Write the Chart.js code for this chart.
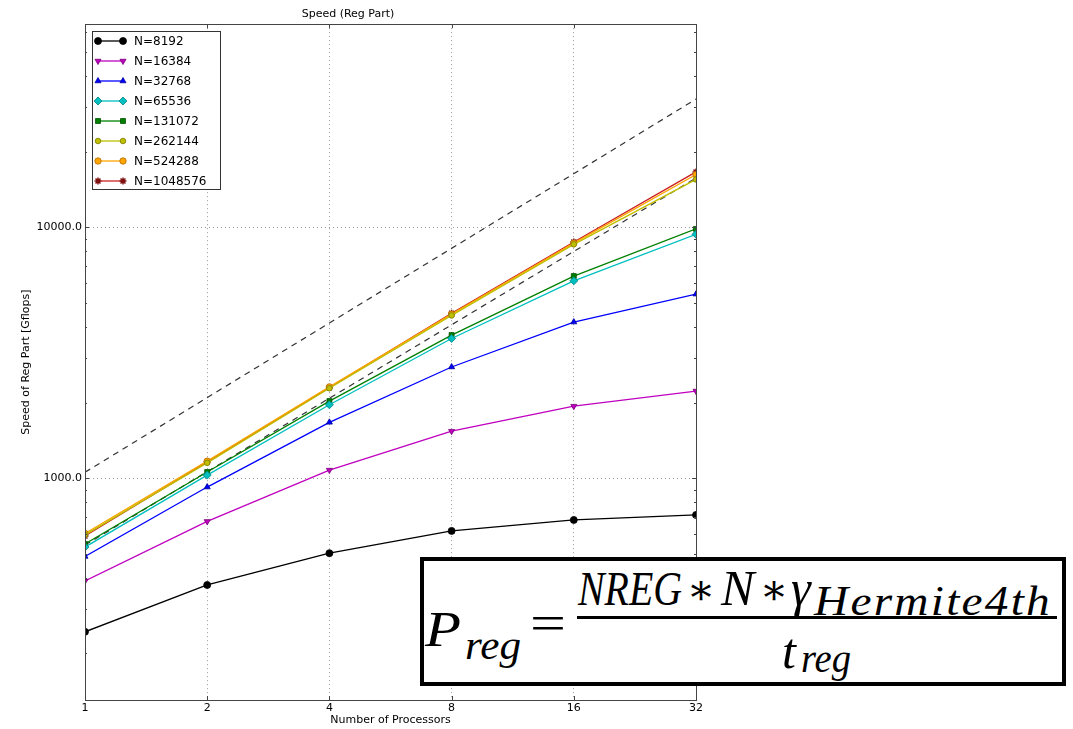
<!DOCTYPE html>
<html>
<head>
<meta charset="utf-8">
<script src="https://cdn.jsdelivr.net/npm/chart.js@4"></script>
<style>
html,body{margin:0;padding:0;background:#fff;}
#wrap{position:absolute;left:0;top:0;width:1073px;height:729px;}
#formula{position:absolute;left:420px;top:557px;width:638px;height:121px;border:4px solid #000;background:#fff;
font-family:"Liberation Serif","DejaVu Serif",serif;font-style:italic;color:#000;overflow:hidden;}
#formula span{position:absolute;white-space:nowrap;line-height:1;transform-origin:0 0;}
.big{font-size:50px;}
.sub{font-size:40px;}
.op{font-style:normal;}
.ast{font-style:normal;font-size:42px;transform:translateX(-50%);}
#bar{position:absolute;left:153px;top:55px;width:480px;height:3px;background:#000;}
</style>
</head>
<body>
<div id="wrap"><canvas id="chart" width="1073" height="729"></canvas></div>
<div id="formula">
<span class="big" data-w="36" style="left:1px;top:43px;">P</span>
<span class="sub" data-w="56" style="left:41px;top:65px;">reg</span>
<span class="big op" data-w="36" style="left:106px;top:37px;">=</span>
<span class="big" data-w="104" style="left:154px;top:4px;font-size:48px;">NREG</span>
<span class="ast" style="left:277px;top:8px;">∗</span>
<span class="big" style="left:297px;top:2px;">N</span>
<span class="ast" style="left:350px;top:8px;">∗</span>
<span class="big" style="left:367px;top:2px;">γ</span>
<span class="sub" data-w="238" style="left:390px;top:19px;font-size:42px;letter-spacing:2px;">Hermite4th</span>
<div id="bar"></div>
<span class="big" style="left:358px;top:65px;">t</span>
<span class="sub" data-w="50" style="left:377px;top:78px;">reg</span>
</div>
<script>
const procs = [1, 2, 4, 8, 16, 32];
const seriesNames = ["N=8192", "N=16384", "N=32768", "N=65536", "N=131072", "N=262144", "N=524288", "N=1048576"];
const n8192 = [244, 375, 502, 616, 681, 713];
const n16384 = [389, 672, 1076, 1538, 1935, 2223];
const n32768 = [487, 921, 1668, 2772, 4185, 5408];
const n65536 = [531, 1028, 1960, 3600, 6110, 9370];
const n131072 = [546, 1057, 2027, 3715, 6383, 9840];
const n262144 = [594, 1150, 2280, 4450, 8540, 15500];
const n524288 = [602, 1168, 2310, 4500, 8640, 16200];
const n1048576 = [588, 1161, 2296, 4540, 8730, 16600];
const idealProcs = [1, 32];
const idealUpper = [1055, 32400];
const idealLower = [541, 15700];
const yMajor = [1000, 10000];

const allSeries = [n8192, n16384, n32768, n65536, n131072, n262144, n524288, n1048576];
const colors = ["#000000", "#bf00bf", "#0000ff", "#00bfbf", "#008000", "#bfbf00", "#ffa500", "#cc2222"];
const edges = ["#000000", "#7a007a", "#000099", "#008080", "#005000", "#7a7a00", "#b36b00", "#801010"];
const styles = ["circle", "triangle", "triangle", "rectRot", "rect", "circle", "circle", "star"];
const rots = [0, 180, 0, 0, 0, 0, 0, 0];
const radii = [3.5, 3.5, 3.5, 4, 3.5, 2.8, 3.2, 3.5];

// squeeze some formula pieces to the widths seen in the picture
document.querySelectorAll("#formula span[data-w]").forEach(s => {
let w = s.getBoundingClientRect().width;
s.style.transform = "scaleX(" + (Number(s.dataset.w) / w) + ")";
});

function pts(xs, ys){
return xs.map((x, i) => ({x: x, y: ys[i]}));
}

let datasets = allSeries.map((s, i) => ({
label: seriesNames[i],
data: pts(procs, s),
borderColor: colors[i],
backgroundColor: colors[i],
pointBackgroundColor: colors[i],
pointBorderColor: edges[i],
pointBorderWidth: styles[i] === "star" ? 1.5 : 0.8,
pointStyle: styles[i],
pointRotation: rots[i],
pointRadius: radii[i],
borderWidth: 1.3,
tension: 0
}));
[idealUpper, idealLower].forEach(d => {
datasets.push({
label: "",
data: pts(idealProcs, d),
borderColor: "#333",
borderWidth: 1.2,
borderDash: [6, 5],
pointRadius: 0,
isIdeal: true
});
});

const frame = {
id: "frame",
afterDraw(c){
const ctx = c.ctx, a = c.chartArea;
const xs = c.scales.x, ys = c.scales.y;
ctx.save();
ctx.strokeStyle = "#444";
ctx.lineWidth = 1;
// inward ticks
ctx.beginPath();
procs.forEach(v => {
let px = Math.round(xs.getPixelForValue(v)) + 0.5;
ctx.moveTo(px, a.bottom); ctx.lineTo(px, a.bottom - 4);
ctx.moveTo(px, a.top); ctx.lineTo(px, a.top + 4);
});
for(let d = 100; d <= 100000; d *= 10){
for(let k = 1; k < 10; k++){
let v = d * k;
if(v < ys.min || v > ys.max) continue;
let py = Math.round(ys.getPixelForValue(v)) + 0.5;
let len = k === 1 ? 4 : 2;
ctx.moveTo(a.left, py); ctx.lineTo(a.left + len, py);
ctx.moveTo(a.right, py); ctx.lineTo(a.right - len, py);
}
}
ctx.stroke();
ctx.strokeRect(Math.round(a.left) + 0.5, Math.round(a.top) + 0.5, Math.round(a.right - a.left), Math.round(a.bottom - a.top));

// legend
const lx = 92, ly = 31, lw = 128, lh = 158;
ctx.fillStyle = "#fff";
ctx.fillRect(lx, ly, lw, lh);
ctx.strokeStyle = "#333";
ctx.strokeRect(lx + 0.5, ly + 0.5, lw, lh);
ctx.font = "12px 'DejaVu Sans'";
ctx.textBaseline = "middle";
c.data.datasets.forEach((ds, i) => {
if(ds.isIdeal) return;
let y = ly + 10 + i * 20;
ctx.strokeStyle = ds.borderColor;
ctx.lineWidth = 1.3;
ctx.beginPath(); ctx.moveTo(98, y); ctx.lineTo(123, y); ctx.stroke();
[98, 123].forEach(x => {
ctx.fillStyle = ds.pointBackgroundColor;
ctx.strokeStyle = ds.pointBorderColor;
ctx.lineWidth = ds.pointBorderWidth;
Chart.helpers.drawPoint(ctx, {pointStyle: ds.pointStyle, rotation: ds.pointRotation, radius: ds.pointRadius, borderWidth: ds.pointBorderWidth}, x, y);
});
ctx.fillStyle = "#000";
ctx.fillText(ds.label, 134, y + 1);
});
ctx.restore();
}
};

const tickFont = {family: "'DejaVu Sans'", size: 11};

new Chart(document.getElementById("chart"), {
type: "line",
data: {datasets: datasets},
options: {
responsive: false,
animation: false,
layout: {padding: {left: 0, right: 377, top: 0, bottom: 0}},
plugins: {
legend: {display: false},
tooltip: {enabled: false},
title: {
display: true,
text: "Speed (Reg Part)",
color: "#000",
font: {family: "'DejaVu Sans'", size: 11, weight: "normal"},
padding: {top: 8, bottom: 3}
}
},
scales: {
x: {
type: "logarithmic",
min: 1,
max: 32,
afterBuildTicks: s => { s.ticks = procs.map(v => ({value: v})); },
afterFit: s => { s.height = 29; },
ticks: {color: "#000", font: tickFont, padding: 2, maxRotation: 0, autoSkip: false, callback: v => String(v)},
grid: {color: "#999", drawTicks: false, lineWidth: 1},
border: {display: false, dash: [1, 3]},
title: {display: true, text: "Number of Processors", color: "#000", font: tickFont, padding: {top: 0, bottom: 2}}
},
y: {
type: "logarithmic",
min: 130.5,
max: 64400,
afterBuildTicks: s => { s.ticks = yMajor.map(v => ({value: v})); },
afterFit: s => { s.width = 85; },
ticks: {color: "#000", font: tickFont, padding: 3, autoSkip: false, callback: v => Number(v).toFixed(1)},
grid: {color: "#999", drawTicks: false, lineWidth: 1},
border: {display: false, dash: [1, 3]},
title: {display: true, text: "Speed of Reg Part [Gflops]", color: "#000", font: tickFont, padding: {top: 20, bottom: 0}}
}
}
},
plugins: [frame]
});
</script>
</body>
</html>
